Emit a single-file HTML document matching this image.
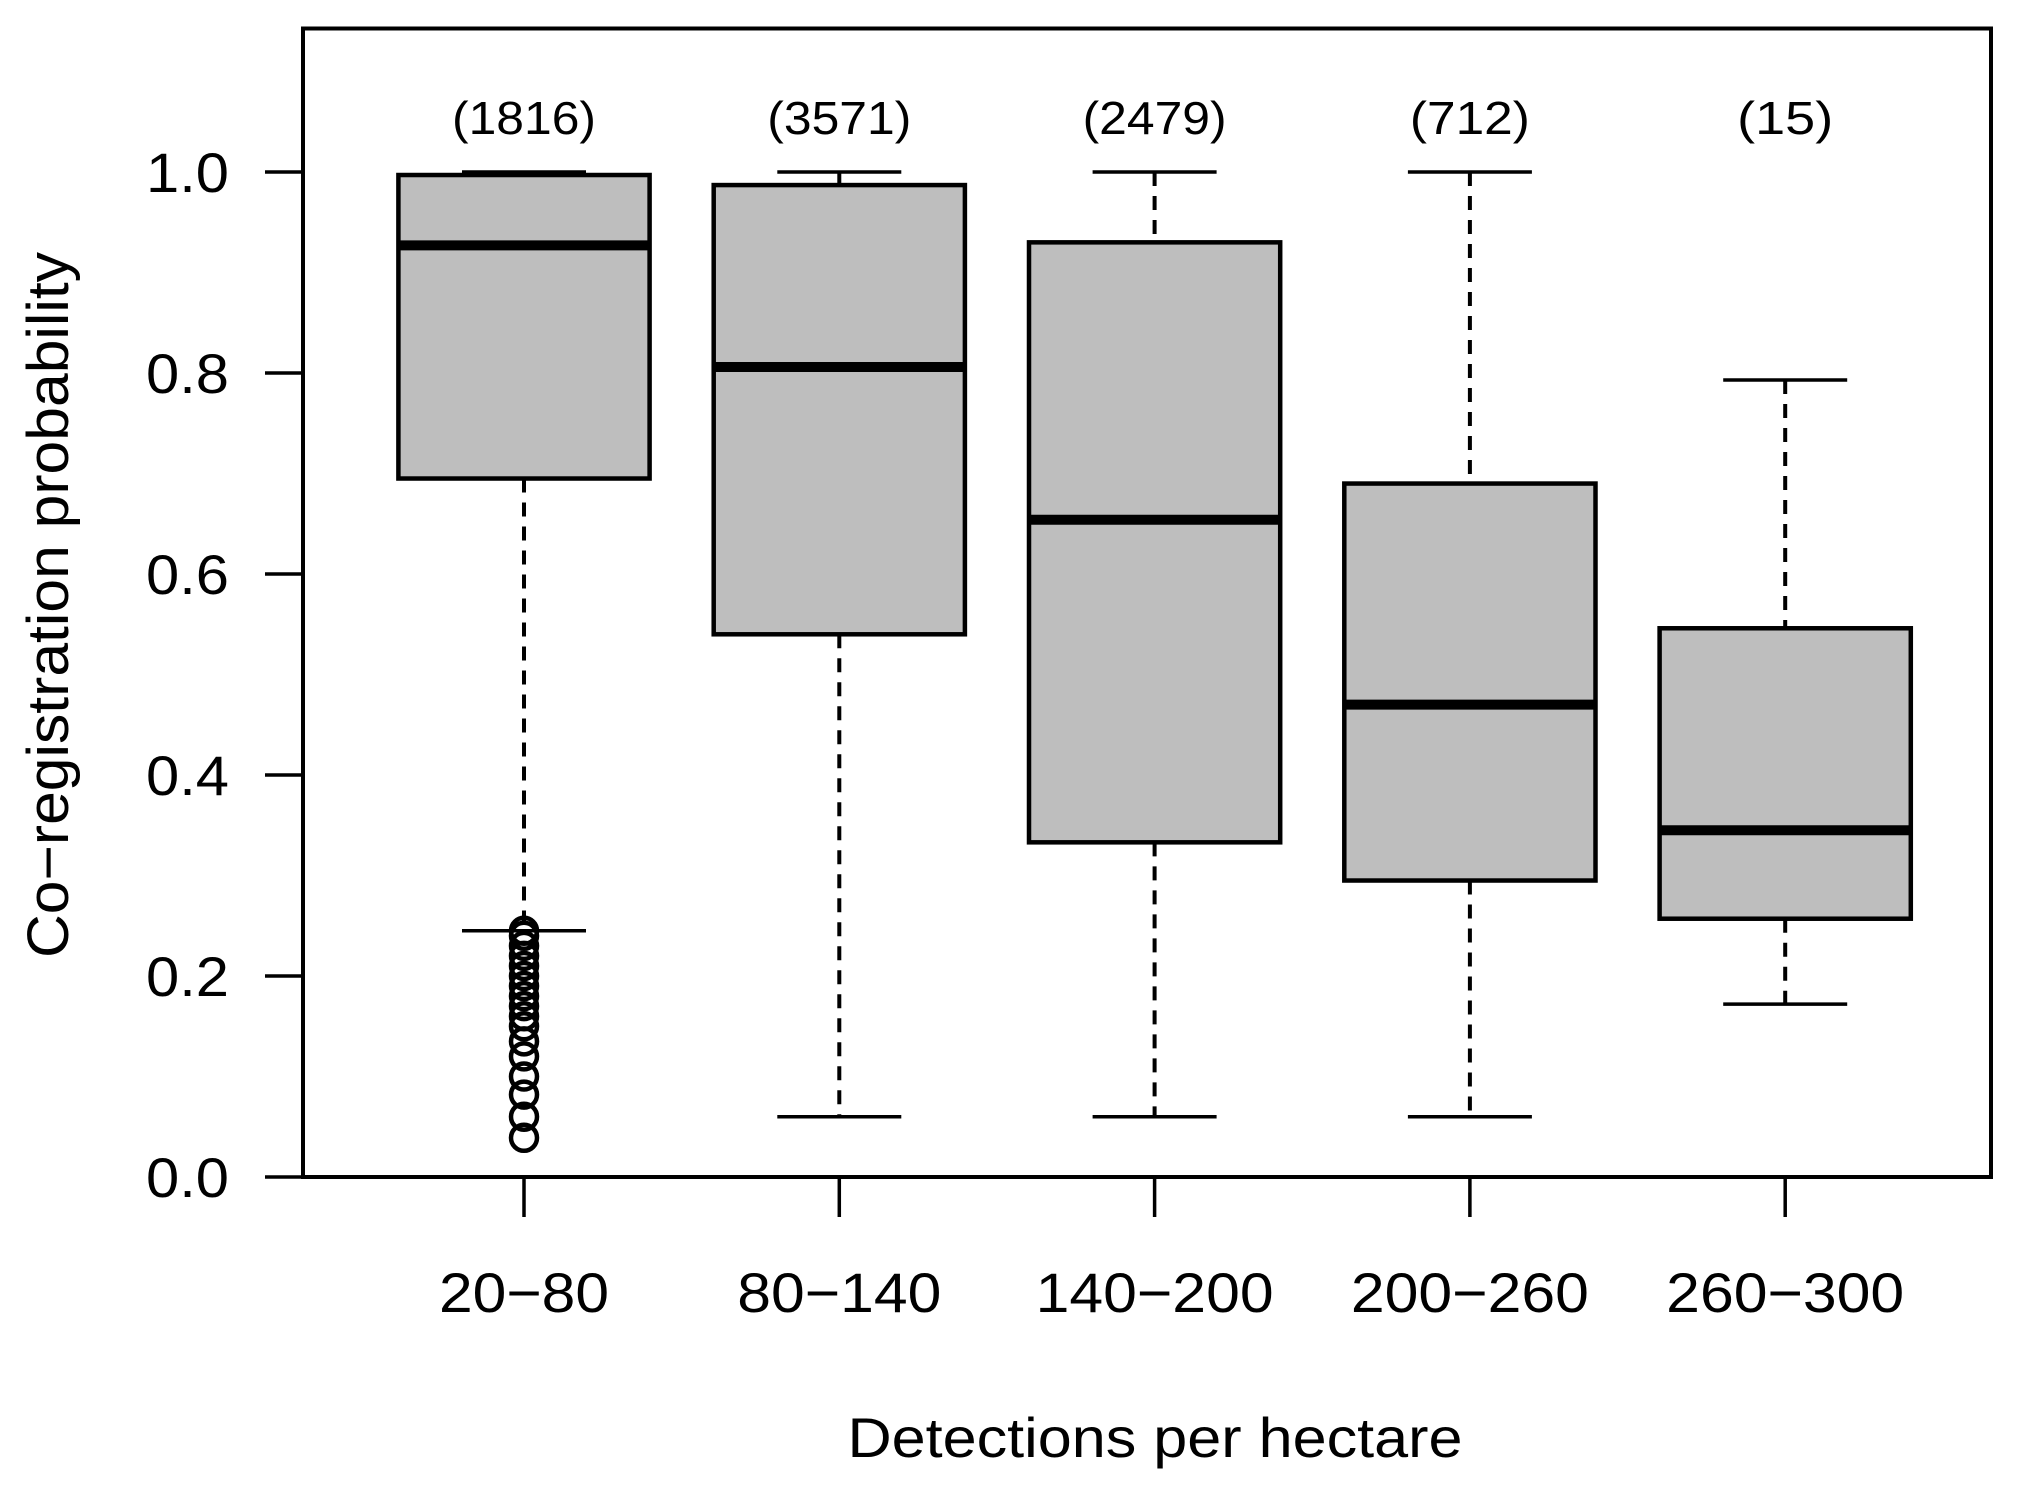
<!DOCTYPE html>
<html><head><meta charset="utf-8"><style>
html,body{margin:0;padding:0;background:#fff}
svg{display:block;font-family:"Liberation Sans",sans-serif}
</style></head><body>
<svg id="chart" width="2030" height="1495" viewBox="0 0 2030 1495"></svg>
<script>
const categories = ["20\u221280","80\u2212140","140\u2212200","200\u2212260","260\u2212300"];
const counts = ["(1816)","(3571)","(2479)","(712)","(15)"];
const lowWhisker = [0.245,0.06,0.06,0.06,0.172];
const q1 = [0.695,0.54,0.333,0.295,0.257];
const medians = [0.927,0.806,0.654,0.47,0.345];
const q3 = [0.997,0.987,0.93,0.69,0.546];
const highWhisker = [1.0,1.0,1.0,1.0,0.793];
const outliersG1 = [0.039,0.06,0.082,0.10,0.12,0.135,0.15,0.16,0.17,0.18,0.19,0.20,0.21,0.22,0.23,0.24,0.245];
const yTicks = [0,0.2,0.4,0.6,0.8,1.0];
const yTickLabels = ["0.0","0.2","0.4","0.6","0.8","1.0"];

const NS="http://www.w3.org/2000/svg";
const svg=document.getElementById('chart');
function y(v){return 1177-1005*v;}
function x(i){return 524+i*315.3;}
function mk(tag,attrs,parent){const e=document.createElementNS(NS,tag);for(const k in attrs)e.setAttribute(k,attrs[k]);(parent||svg).appendChild(e);return e;}
function wid(str,perChar){return str.length*perChar;}

const frame=mk('rect',{x:303,y:28.5,width:1688,height:1148.5,fill:'none',stroke:'#000','stroke-width':4});



yTicks.forEach((v,i)=>{
  const t=mk('line',{x1:265,x2:303,y1:y(v),y2:y(v),stroke:'#000','stroke-width':3.5});
  
  
  const l=mk('text',{x:229,y:y(v)+20,'text-anchor':'end','font-size':56,textLength:83,lengthAdjust:'spacingAndGlyphs'});
  l.textContent=yTickLabels[i];
  
  
});

categories.forEach((c,i)=>{
  const cx=x(i), hw=125.6, cw=62;
  const g=mk('g',{});
  
  
  mk('line',{x1:cx,x2:cx,y1:y(highWhisker[i]),y2:y(q3[i]),stroke:'#000','stroke-width':4,'stroke-dasharray':'14,10'},g);
  mk('line',{x1:cx,x2:cx,y1:y(q1[i]),y2:y(lowWhisker[i]),stroke:'#000','stroke-width':4,'stroke-dasharray':'14,10'},g);
  mk('line',{x1:cx-cw,x2:cx+cw,y1:y(highWhisker[i]),y2:y(highWhisker[i]),stroke:'#000','stroke-width':3.5},g);
  mk('line',{x1:cx-cw,x2:cx+cw,y1:y(lowWhisker[i]),y2:y(lowWhisker[i]),stroke:'#000','stroke-width':3.5},g);
  mk('rect',{x:cx-hw,y:y(q3[i]),width:2*hw,height:y(q1[i])-y(q3[i]),fill:'#bebebe',stroke:'#000','stroke-width':4.5},g);
  mk('line',{x1:cx-hw,x2:cx+hw,y1:y(medians[i]),y2:y(medians[i]),stroke:'#000','stroke-width':10},g);
  const t=mk('line',{x1:cx,x2:cx,y1:1177,y2:1217,stroke:'#000','stroke-width':3.5});
  
  
  const l=mk('text',{x:cx,y:1312,'text-anchor':'middle','font-size':56,textLength:wid(c,34),lengthAdjust:'spacingAndGlyphs'});
  l.textContent=c;
  
  
  const n=mk('text',{x:cx,y:134,'text-anchor':'middle','font-size':46,textLength:wid(counts[i],24),lengthAdjust:'spacingAndGlyphs'});
  n.textContent=counts[i];
  
  
});

outliersG1.forEach(v=>{
  const o=mk('circle',{cx:x(0),cy:y(v),r:13,fill:'none',stroke:'#000','stroke-width':4.5});
  
  
});

const xt=mk('text',{x:1155,y:1457,'text-anchor':'middle','font-size':56,textLength:615,lengthAdjust:'spacingAndGlyphs'});
xt.textContent='Detections per hectare';


const yt=mk('text',{x:0,y:0,'text-anchor':'middle','font-size':58,textLength:706,lengthAdjust:'spacingAndGlyphs',transform:'translate(68,605) rotate(-90)'});
yt.textContent='Co\u2212registration probability';


</script>
</body></html>
